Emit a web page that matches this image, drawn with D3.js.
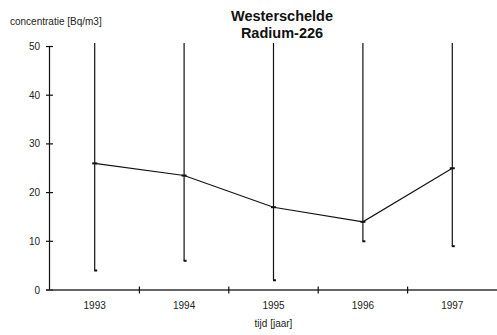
<!DOCTYPE html>
<html>
<head>
<meta charset="utf-8">
<script src="https://cdn.jsdelivr.net/npm/d3@7"></script>
<style>
  html, body { margin: 0; padding: 0; background: #fff; }
  svg { display: block; font-family: "Liberation Sans", Arial, sans-serif; }
</style>
</head>
<body>
<svg id="chart" width="497" height="335"></svg>
<script>
// Radium-226 in the Westerschelde, yearly mean with range
const years = ["1993", "1994", "1995", "1996", "1997"];
const meanValues = [26, 23.5, 17, 14, 25];
const lowValues = [4, 6, 2, 10, 9];
const highValues = [60, 60, 60, 60, 60]; // upper limits run off the top of the scale
const yTicks = [0, 10, 20, 30, 40, 50];

const svg = d3.select("#chart");
const plotLeft = 50, plotRight = 497, plotBottom = 290, plotTop = 46.5;

const x = d3.scaleBand().domain(years).range([plotLeft, plotRight]).padding(0);
const y = d3.scaleLinear().domain([0, 50]).range([plotBottom, plotTop]);
const cx = d => x(d) + x.bandwidth() / 2;

// plot area clip, slightly above the 50 line
svg.append("defs").append("clipPath").attr("id", "plot")
  .append("rect")
  .attr("x", plotLeft).attr("y", y(50.7))
  .attr("width", plotRight - plotLeft).attr("height", plotBottom - y(50.7));

// titles
const title = svg.append("text")
  .attr("text-anchor", "middle")
  .attr("font-size", 14.5).attr("font-weight", "bold").attr("fill", "#111");
title.append("tspan").attr("x", 282).attr("y", 20.5).text("Westerschelde");
title.append("tspan").attr("x", 282).attr("y", 38).text("Radium-226");

svg.append("text").attr("x", 10).attr("y", 24.5)
  .attr("font-size", 10).attr("fill", "#222")
  .text("concentratie [Bq/m3]");

// y axis
const yAxis = svg.append("g");
yAxis.append("line")
  .attr("x1", plotLeft - 0.5).attr("x2", plotLeft - 0.5)
  .attr("y1", y(50)).attr("y2", plotBottom)
  .attr("stroke", "#111").attr("stroke-width", 1.2);
yAxis.selectAll("line.tick").data(yTicks).join("line")
  .attr("class", "tick")
  .attr("x1", plotLeft - 4).attr("x2", plotLeft + 3)
  .attr("y1", d => y(d)).attr("y2", d => y(d))
  .attr("stroke", "#111").attr("stroke-width", 1.2);
yAxis.selectAll("text").data(yTicks).join("text")
  .attr("x", 40).attr("y", d => y(d)).attr("dy", "0.35em")
  .attr("text-anchor", "end").attr("font-size", 10).attr("fill", "#222")
  .text(d => d);

// x axis with ticks on the category boundaries
const xAxis = svg.append("g");
xAxis.append("line")
  .attr("x1", plotLeft - 4).attr("x2", plotRight)
  .attr("y1", plotBottom).attr("y2", plotBottom)
  .attr("stroke", "#333").attr("stroke-width", 1.5);
const bounds = years.map(d => x(d)).slice(1);
xAxis.selectAll("line.tick").data(bounds).join("line")
  .attr("class", "tick")
  .attr("x1", d => d).attr("x2", d => d)
  .attr("y1", plotBottom - 3.5).attr("y2", plotBottom + 3.5)
  .attr("stroke", "#111").attr("stroke-width", 1.2);
xAxis.selectAll("text").data(years).join("text")
  .attr("x", d => cx(d)).attr("y", 308.5)
  .attr("text-anchor", "middle").attr("font-size", 10).attr("fill", "#222")
  .text(d => d);
svg.append("text").attr("x", (plotLeft + plotRight) / 2).attr("y", 326.5)
  .attr("text-anchor", "middle").attr("font-size", 10).attr("fill", "#222")
  .text("tijd [jaar]");

const rows = years.map((d, i) => ({ year: d, mean: meanValues[i], low: lowValues[i], high: highValues[i] }));
const plot = svg.append("g").attr("clip-path", "url(#plot)");

// range bars
plot.selectAll("line.range").data(rows).join("line")
  .attr("class", "range")
  .attr("x1", d => cx(d.year)).attr("x2", d => cx(d.year))
  .attr("y1", d => y(d.high)).attr("y2", d => y(d.low))
  .attr("stroke", "#111").attr("stroke-width", 1.2);
plot.selectAll("line.cap").data(rows).join("line")
  .attr("class", "cap")
  .attr("x1", d => cx(d.year) - 0.5).attr("x2", d => cx(d.year) + 2.5)
  .attr("y1", d => y(d.low)).attr("y2", d => y(d.low))
  .attr("stroke", "#111").attr("stroke-width", 2);

// mean line and markers
plot.append("path").datum(rows)
  .attr("fill", "none").attr("stroke", "#111").attr("stroke-width", 1.1)
  .attr("d", d3.line().x(d => cx(d.year)).y(d => y(d.mean)));
plot.selectAll("line.mark").data(rows).join("line")
  .attr("class", "mark")
  .attr("x1", d => cx(d.year) - 2.5).attr("x2", d => cx(d.year) + 2.5)
  .attr("y1", d => y(d.mean)).attr("y2", d => y(d.mean))
  .attr("stroke", "#111").attr("stroke-width", 2);
</script>
</body>
</html>
